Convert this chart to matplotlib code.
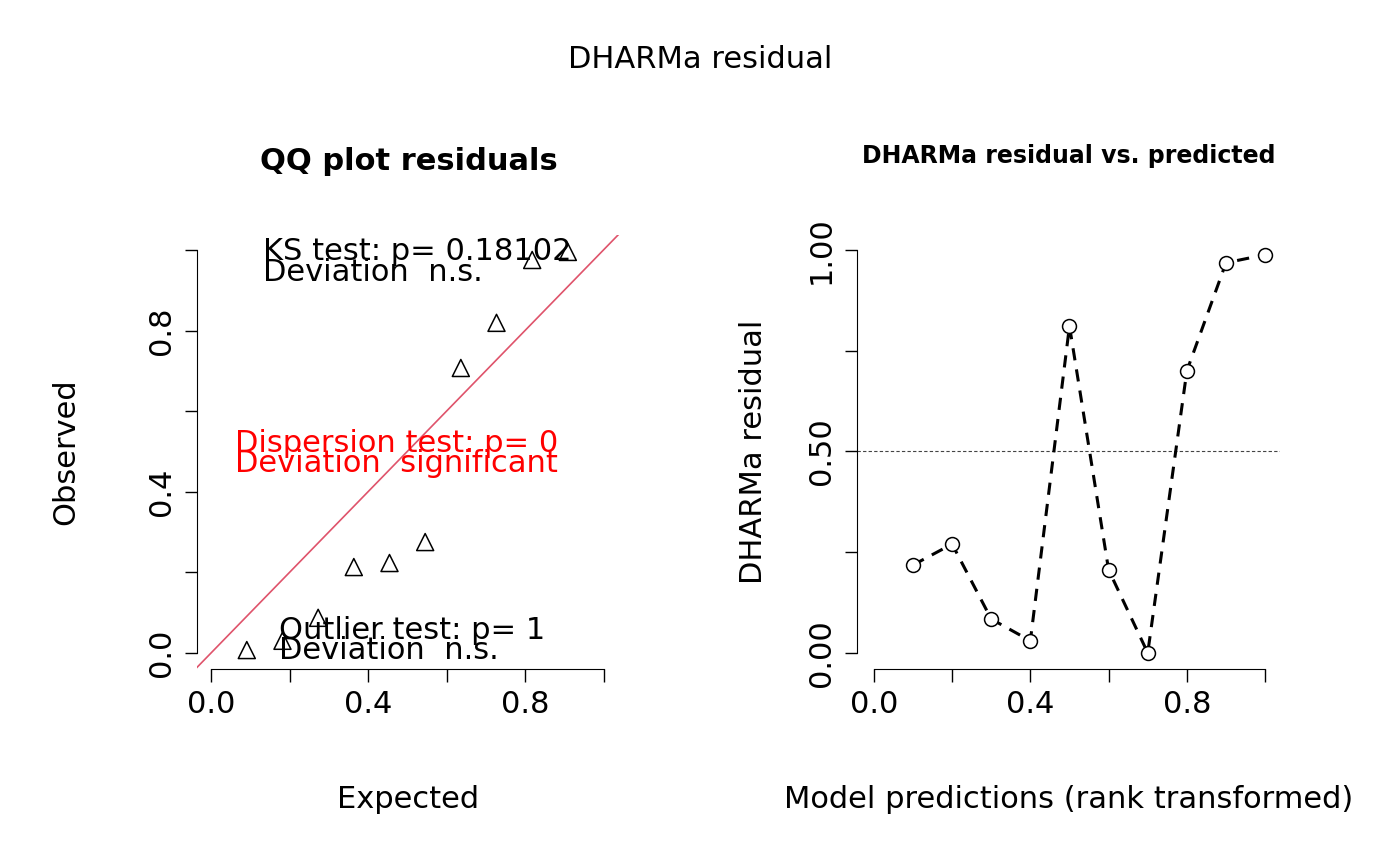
import matplotlib.pyplot as plt
import numpy as np

# QQ plot data
qq_expected = [i / 11 for i in range(1, 11)]
qq_observed = [0.007, 0.03, 0.087, 0.213, 0.223, 0.275, 0.707, 0.819, 0.975, 0.995]

# residual vs predicted
pred_rank = [0.1, 0.2, 0.3, 0.4, 0.5, 0.6, 0.7, 0.8, 0.9, 1.0]
resid = [0.218, 0.27, 0.084, 0.03, 0.811, 0.206, 0.0, 0.70, 0.968, 0.988]

FS = 22

fig = plt.figure(figsize=(14, 8.66), dpi=100)
fig.text(0.5, 1 - 60 / 866, "DHARMa residual", ha="center", va="center", fontsize=FS)


def r_style(ax, xt, yt, xlab, ylab):
    for s in ("top", "right"):
        ax.spines[s].set_visible(False)
    ax.spines["bottom"].set_bounds(xt[0], xt[-1])
    ax.spines["left"].set_bounds(yt[0], yt[-1])
    ax.set_xticks(xt)
    ax.set_yticks(yt)
    ax.set_xticklabels(xlab, fontsize=FS)
    ax.set_yticklabels(ylab, fontsize=FS, rotation=90, va="center")
    ax.tick_params(length=9, width=1, pad=6)


# left panel
ax1 = fig.add_axes([197 / 1400, 197 / 866, 423 / 1400, 434 / 866])
ax1.set_xlim(-0.036, 1.042)
ax1.set_ylim(-0.04, 1.037)
ax1.plot([-0.1, 1.1], [-0.1, 1.1], color="#DF536B", lw=1.2)
ax1.scatter(qq_expected, qq_observed, marker="^", s=150, facecolors="none",
            edgecolors="black", linewidths=1.1, zorder=3)
r_style(ax1, np.arange(0, 1.01, 0.2), np.arange(0, 1.01, 0.2),
        ["0.0", "", "0.4", "", "0.8", ""], ["0.0", "", "0.4", "", "0.8", ""])
ax1.set_xlabel("Expected", fontsize=FS, labelpad=48)
ax1.set_ylabel("Observed", fontsize=FS, labelpad=48)
ax1.set_title("QQ plot residuals", fontsize=22, fontweight="bold", pad=47)
ax1.text(0.132, 0.995, "KS test: p= 0.18102", fontsize=FS, va="center")
ax1.text(0.132, 0.945, "Deviation  n.s.", fontsize=FS, va="center")
ax1.text(0.062, 0.52, "Dispersion test: p= 0", fontsize=FS, va="center", color="red")
ax1.text(0.062, 0.47, "Deviation  significant", fontsize=FS, va="center", color="red")
ax1.text(0.172, 0.055, "Outlier test: p= 1", fontsize=FS, va="center")
ax1.text(0.172, 0.005, "Deviation  n.s.", fontsize=FS, va="center")

# right panel
ax2 = fig.add_axes([857 / 1400, 197 / 866, 423 / 1400, 434 / 866])
ax2.set_xlim(-0.043, 1.038)
ax2.set_ylim(-0.04, 1.037)
ax2.axhline(0.5, color="#444444", lw=0.8, ls=(0, (3, 2)))
ax2.plot(pred_rank, resid, color="black", lw=2.2, ls=(0, (4, 3)))
ax2.scatter(pred_rank, resid, marker="o", s=100, facecolors="white",
            edgecolors="black", linewidths=1.1, zorder=3)
r_style(ax2, np.arange(0, 1.01, 0.2), np.arange(0, 1.01, 0.25),
        ["0.0", "", "0.4", "", "0.8", ""], ["0.00", "", "0.50", "", "1.00"])
ax2.set_xlabel("Model predictions (rank transformed)", fontsize=FS, labelpad=48)
ax2.set_ylabel("DHARMa residual", fontsize=FS, labelpad=28)
ax2.set_title("DHARMa residual vs. predicted", fontsize=17, fontweight="bold", pad=52)

fig.savefig("out.png", dpi=100)
